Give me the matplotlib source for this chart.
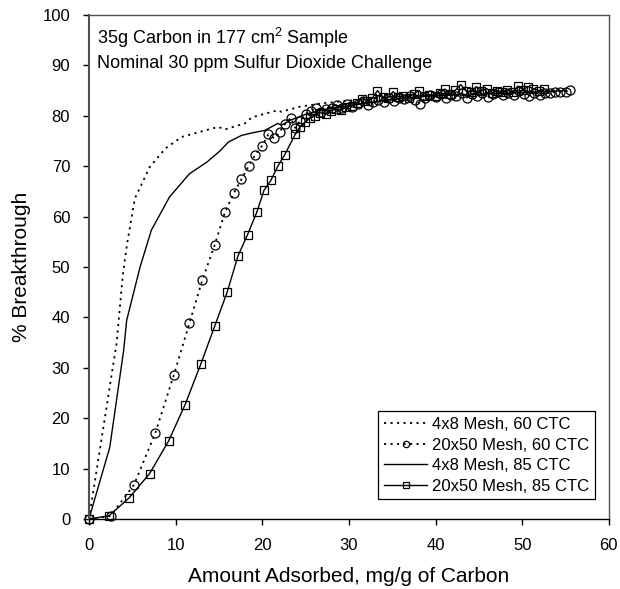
import matplotlib
matplotlib.use("Agg")
import matplotlib.pyplot as plt

plt.rcParams['font.family'] = ['Liberation Sans', 'DejaVu Sans']
plt.rcParams['mathtext.fontset'] = 'custom'
plt.rcParams['mathtext.rm'] = 'Liberation Sans'

# 4x8 Mesh, 60 CTC (dotted, no markers)
x_48_60 = [0, 3.2, 3.9, 4.4, 5.3, 7.0, 8.8, 10.7, 13.0, 14.9, 15.7, 18.0, 18.8,
           21.8, 22.2, 24.3, 27.0, 30.0, 35.0, 40.0, 45.0, 50.0, 55.0]
y_48_60 = [0, 35.0, 48.3, 54.6, 63.6, 69.8, 73.5, 75.8, 76.9, 77.8, 77.3, 78.5, 79.7,
           81.1, 80.8, 81.8, 82.5, 83.0, 83.8, 84.2, 84.5, 84.8, 85.0]

# 4x8 Mesh, 85 CTC (solid, no markers)
x_48_85 = [0, 2.4, 4.0, 4.35, 5.9, 7.2, 9.3, 11.6, 13.6, 15.1, 16.1, 17.6, 18.8,
           20.3, 21.8, 22.2, 23.2, 25.0, 27.0, 30.0, 35.0, 40.0, 45.0, 50.0, 55.0]
y_48_85 = [0, 14.2, 33.4, 39.4, 50.0, 57.3, 63.9, 68.5, 70.8, 73.0, 74.8, 76.1, 76.6,
           77.1, 78.5, 78.1, 79.1, 80.3, 81.2, 82.0, 83.3, 84.0, 84.3, 84.6, 85.0]

# 20x50 Mesh, 60 CTC (dotted, circles)
x_2050_60 = [0, 2.5, 5.2, 7.65, 9.8, 11.6, 13.1, 14.5, 15.7, 16.7, 17.6, 18.45, 19.2,
             20.0, 20.7, 21.4, 22.0, 22.6, 23.3, 23.8, 24.3, 25.0, 25.6, 26.2, 26.8,
             27.4, 28.0, 28.6, 29.2, 29.8, 30.4, 31.0, 31.6, 32.2, 32.8, 33.4, 34.0,
             34.6, 35.2, 35.8, 36.4, 37.0, 37.6, 38.2, 38.8, 39.4, 40.0, 40.6, 41.2,
             41.8, 42.4, 43.0, 43.6, 44.2, 44.8, 45.4, 46.0, 46.6, 47.2, 47.8, 48.4,
             49.0, 49.6, 50.2, 50.8, 51.4, 52.0, 52.6, 53.2, 53.8, 54.4, 55.0, 55.5]
y_2050_60 = [0, 0.6, 6.8, 17.0, 28.6, 38.9, 47.5, 54.3, 60.9, 64.6, 67.4, 70.1, 72.3,
             74.1, 76.3, 75.5, 76.8, 78.3, 79.6, 77.6, 78.9, 80.4, 80.9, 81.5, 80.8,
             81.4, 81.6, 82.2, 81.5, 82.4, 81.8, 82.3, 82.9, 82.2, 82.8, 83.2, 82.7,
             83.5, 82.9, 83.6, 83.3, 83.9, 83.1, 82.4, 83.6, 84.1, 83.7, 84.3, 83.5,
             84.2, 83.9, 84.5, 83.6, 84.4, 84.0, 84.6, 83.7, 84.3, 84.8, 84.1, 84.6,
             84.2, 84.9, 84.4, 84.0, 84.5, 84.1, 84.5, 84.6, 84.7, 84.8, 84.8, 85.1]

# 20x50 Mesh, 85 CTC (solid, squares)
x_2050_85 = [0, 2.3, 4.65, 7.0, 9.2, 11.1, 12.9, 14.5, 15.95, 17.2, 18.3, 19.4, 20.2,
             21.0, 21.8, 22.6, 23.8, 24.3, 24.9, 25.5, 26.1, 26.7, 27.3, 27.9, 28.5,
             29.1, 29.7, 30.3, 30.9, 31.5, 32.1, 32.7, 33.3, 33.9, 34.5, 35.1, 35.7,
             36.3, 36.9, 37.5, 38.1, 38.7, 39.3, 39.9, 40.5, 41.1, 41.7, 42.3, 42.9,
             43.5, 44.1, 44.7, 45.3, 45.9, 46.5, 47.1, 47.7, 48.3, 48.9, 49.5, 50.1,
             50.7, 51.3, 51.9, 52.5]
y_2050_85 = [0, 0.6, 4.2, 9.0, 15.5, 22.7, 30.7, 38.2, 45.0, 52.2, 56.4, 61.0, 65.2,
             67.2, 70.0, 72.3, 76.3, 77.7, 78.7, 79.5, 80.0, 80.6, 80.4, 81.0, 81.3,
             81.1, 81.8, 82.0, 82.6, 83.4, 83.0, 83.5, 85.0, 83.8, 83.6, 84.8, 83.8,
             84.0, 83.6, 84.4, 85.0, 83.9, 84.2, 84.0, 84.6, 85.3, 84.4, 85.1, 86.2,
             85.0, 84.7, 85.8, 84.9, 85.4, 84.6, 85.0, 84.8, 85.1, 84.7, 85.9, 85.2,
             85.8, 85.4, 85.0, 85.3]

fig = plt.figure(figsize=(6.2, 5.89), dpi=100)
ax = fig.add_axes([0.1435, 0.119, 0.8385, 0.8555])

dot = (0, (1.2, 2.4))
ax.plot(x_48_60, y_48_60, color='black', lw=1.3, linestyle=dot, label='4x8 Mesh, 60 CTC')
ax.plot(x_2050_60, y_2050_60, color='black', lw=1.3, linestyle=dot, marker='o', ms=6.5,
        mfc='none', mec='black', mew=0.9, label='20x50 Mesh, 60 CTC', clip_on=False)
ax.plot(x_48_85, y_48_85, color='black', lw=1.0, label='4x8 Mesh, 85 CTC')
ax.plot(x_2050_85, y_2050_85, color='black', lw=1.0, marker='s', ms=5.5,
        mfc='none', mec='black', mew=0.9, label='20x50 Mesh, 85 CTC', clip_on=False)

ax.set_xlim(0, 60)
ax.set_ylim(0, 100)
ax.set_xticks(range(0, 61, 10))
ax.set_yticks(range(0, 101, 10))
ax.tick_params(direction='out', length=4.5, width=1, labelsize=12, pad=9)
for s in ax.spines.values():
    s.set_color('#505050')
    s.set_linewidth(1.0)
ax.spines['bottom'].set_color('black')
ax.spines['left'].set_linewidth(1.5)

ax.set_xlabel('Amount Adsorbed, mg/g of Carbon', fontsize=15, labelpad=10)
ax.set_ylabel('% Breakthrough', fontsize=15, labelpad=8)

ax.text(0.016, 0.978, '35g Carbon in 177 cm$^2$ Sample', transform=ax.transAxes,
        fontsize=13, va='top', ha='left')
ax.text(0.016, 0.921, 'Nominal 30 ppm Sulfur Dioxide Challenge', transform=ax.transAxes,
        fontsize=13, va='top', ha='left')

leg = ax.legend(loc='lower right', bbox_to_anchor=(0.99, 0.022), fontsize=12,
                frameon=True, fancybox=False, edgecolor='black', framealpha=1,
                handlelength=2.6, handletextpad=0.3, borderpad=0.35, labelspacing=0.33,
                markerscale=0.7)
leg.get_frame().set_linewidth(0.9)

fig.savefig('out.png', dpi=100)
